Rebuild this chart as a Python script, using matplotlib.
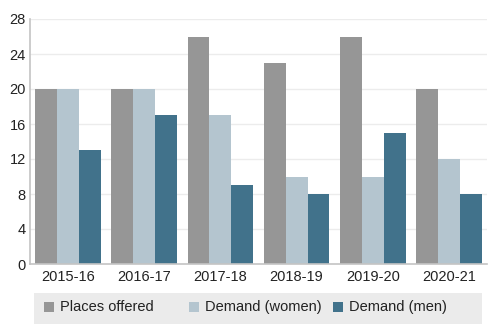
import matplotlib
matplotlib.use("Agg")
import matplotlib.pyplot as plt
import numpy as np
from matplotlib.patches import Rectangle

categories = ["2015-16", "2016-17", "2017-18", "2018-19", "2019-20", "2020-21"]
places_offered = [20, 20, 26, 23, 26, 20]
demand_women = [20, 20, 17, 10, 10, 12]
demand_men = [13, 17, 9, 8, 15, 8]
series_names = ["Places offered", "Demand (women)", "Demand (men)"]
colors = ["#969696", "#b4c5cf", "#41728b"]
yticks = [0, 4, 8, 12, 16, 20, 24, 28]

plt.rcParams['font.family'] = ['Liberation Sans', 'DejaVu Sans']
W, H = 494, 335
fig = plt.figure(figsize=(W/100, H/100), dpi=100)
ax = fig.add_axes([30/W, 1-264/H, (487-30)/W, (264-19)/H])

x = np.arange(len(categories))
bw = 0.86/3
for i, (vals, c) in enumerate(zip([places_offered, demand_women, demand_men], colors)):
    ax.bar(x + (i-1)*bw, vals, width=bw, color=c, zorder=2)

ax.set_xlim(-0.5, len(categories)-0.5)
ax.set_ylim(0, 28)
ax.set_yticks(yticks)
ax.set_xticks(x)
ax.set_xticklabels(categories)
ax.tick_params(axis='both', length=0, labelsize=10.5, colors='#222222', pad=4)
ax.tick_params(axis='y', pad=3)
ax.grid(axis='y', color='#ececec', linewidth=1, zorder=0)
for s in ['top', 'right']:
    ax.spines[s].set_visible(False)
for s in ['left', 'bottom']:
    ax.spines[s].set_color('#c4c4c4')
    ax.spines[s].set_linewidth(1.2)

# legend box
fig.patches.append(Rectangle((34/W, 1-324/H), (482-34)/W, (324-293)/H,
                             transform=fig.transFigure, facecolor='#ebebeb',
                             edgecolor='none', zorder=0))
item_x = [44, 189, 333]
yc = 307
for px, name, c in zip(item_x, series_names, colors):
    fig.patches.append(Rectangle((px/W, 1-(yc+5)/H), 10/W, 10/H,
                                 transform=fig.transFigure, facecolor=c,
                                 edgecolor='none', zorder=1))
    fig.text((px+16)/W, 1-yc/H, name, fontsize=10.5, color='#222222',
             va='center', ha='left')

fig.savefig("out.png", dpi=100)
